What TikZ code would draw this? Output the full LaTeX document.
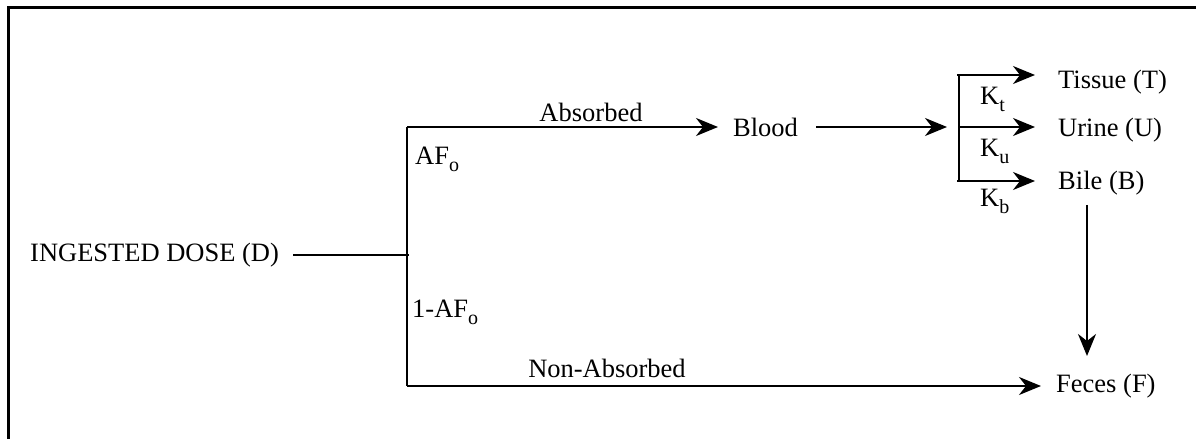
\documentclass[tikz,border=0pt]{standalone}
\usepackage{fontspec}
\setmainfont{Liberation Serif}
\usetikzlibrary{arrows.meta,calc}
\newcommand{\lsub}[1]{\raisebox{-7bp}{\fontsize{20bp}{20bp}\selectfont #1}}
\tikzset{
  lbl/.style={inner sep=0pt, anchor=base west, font=\fontsize{26.5bp}{30bp}\selectfont},
  conn/.style={line width=2bp},
  arr/.style={conn, -{Stealth[length=22bp,width=18bp,inset=7bp]}},
  frame/.style={line width=3bp}
}
\begin{document}
\begin{tikzpicture}[x=1bp,y=-1bp]
\useasboundingbox (0,0) rectangle (1196,439);
% frame (left and top edges)
\draw[frame] (8.5,439) -- (8.5,8) -- (1196,8);

% text nodes
\node[lbl, anchor=west] (dose) at (30,255) {INGESTED DOSE (D)};
\node[lbl, anchor=base] (abs) at (591,122) {Absorbed};
\node[lbl, anchor=west] (blood) at (733,127) {Blood};
\node[lbl] (afo) at (415,165) {AF\lsub{o}};
\node[lbl] (oneafo) at (412,318) {1-AF\lsub{o}};
\node[lbl, anchor=base] (nonabs) at (607,378) {Non-Absorbed};
\node[lbl] (feces) at (1056,393) {Feces (F)};
\node[lbl] (tissue) at (1058,89) {Tissue (T)};
\node[lbl] (urine) at (1058,137) {Urine (U)};
\node[lbl] (bile) at (1058,190) {Bile (B)};
\node[lbl] (kt) at (980,105) {K\lsub{t}};
\node[lbl] (ku) at (980,157) {K\lsub{u}};
\node[lbl] (kb) at (980,207) {K\lsub{b}};

% junctions
\coordinate (jt) at (407,127);
\coordinate (jd) at (407,255);
\coordinate (jb) at (407,386);
\coordinate (bt) at (959,75);
\coordinate (bu) at (959,127);
\coordinate (bb) at (959,181);
\coordinate (bf1) at (1087,205);
\coordinate (bf2) at (1087,356);

% connectors
\draw[conn] ($(dose.east)+(14,0)$) -- ([xshift=2bp]jd);
\draw[conn] (jt) -- (jb);
\draw[arr, shorten >=15bp] (jt) -- (jt -| blood.west);
\draw[arr, shorten >=15bp] (jb) -- (jb -| feces.west);
\draw[arr, shorten >=12bp] ($(blood.east)+(18,0)$) -- (bu);
\draw[conn] (bt) -- (bb);
\draw[arr, shorten >=23bp] ([xshift=-2bp]bt) -- (bt -| tissue.west);
\draw[arr, shorten >=23bp] (bu) -- (bu -| urine.west);
\draw[arr, shorten >=23bp] ([xshift=-2bp]bb) -- (bb -| bile.west);
\draw[arr] (bf1) -- (bf2);
\end{tikzpicture}
\end{document}
